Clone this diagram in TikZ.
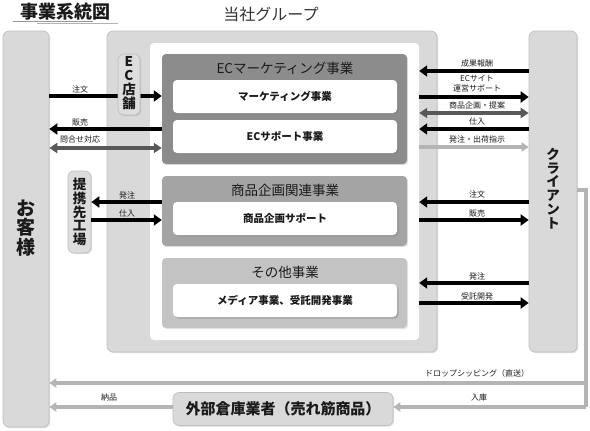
\documentclass[tikz,border=0pt]{standalone}
\usepackage{fontspec}
\setmainfont{Noto Sans CJK JP}
\usetikzlibrary{arrows.meta,shadows}
\definecolor{boxgray}{HTML}{D9D9D9}
\definecolor{boxedge}{HTML}{BDBDBD}
\definecolor{cGa}{HTML}{8C8C8C}
\definecolor{cGb}{HTML}{A4A4A4}
\definecolor{cGc}{HTML}{C3C3C3}
\definecolor{darkarr}{HTML}{595959}
\definecolor{lightarr}{HTML}{B4B4B4}
\definecolor{txt}{HTML}{1A1A1A}
\newcommand{\vfont}[2]{\bfseries\fontsize{#1}{#2}\selectfont\lineskiplimit=-30pt}
\tikzset{
  outerbox/.style={rectangle, rounded corners=6pt, fill=boxgray, draw=boxedge, line width=0.6pt, inner sep=0pt,
    drop shadow={shadow xshift=1.2pt, shadow yshift=-1.2pt, opacity=0.25}},
  groupbox/.style={rectangle, rounded corners=4pt, draw=none, inner sep=0pt,
    drop shadow={shadow xshift=1.2pt, shadow yshift=-1.2pt, opacity=0.2}},
  subbox/.style={rectangle, rounded corners=4pt, fill=white, draw=none, inner sep=0pt,
    minimum width=224pt, minimum height=33pt,
    font=\bfseries\fontsize{10.5}{12}\selectfont, text=txt,
    drop shadow={shadow xshift=1.5pt, shadow yshift=-1.5pt, opacity=0.45}},
  gtitle/.style={font=\fontsize{13.5}{15}\selectfont, text=txt, inner sep=0pt},
  lbl/.style={font=\fontsize{8}{9.5}\selectfont, text=txt, inner sep=0pt, align=center},
  blkarr/.style={line width=4.5pt, draw=black, -{Triangle[length=8pt,width=11pt]}},
  dblarr/.style={line width=4pt, draw=darkarr, {Triangle[length=8pt,width=10pt]}-{Triangle[length=8pt,width=10pt]}},
  ltarr/.style={line width=3.5pt, draw=lightarr, -{Triangle[length=7pt,width=9pt]}},
  ltline/.style={line width=3.5pt, draw=lightarr},
}
\begin{document}
\begin{tikzpicture}[x=1pt,y=-1pt]
\useasboundingbox (0,0) rectangle (590,431);
% title
\node[font=\bfseries\fontsize{18}{20}\selectfont, text=txt, inner sep=0pt] (title) at (65,12) {事業系統図};
\draw[draw=gray!80, line width=0.8pt] (13,21) -- (93,21);
\draw[draw=gray!60, line width=0.8pt] (37,23.5) -- (118,23.5);
\node[font=\fontsize{16}{18}\selectfont, text=black!80, inner sep=0pt] (grptitle) at (271,14) {当社グループ};
% outer boxes
\node[outerbox, minimum width=46pt, minimum height=396pt] (cust) at (26,229) {};
\node[font=\vfont{19}{19.5}, align=center, text=txt, inner sep=0pt] (custtxt) at (26,228) {お\\客\\様};
\node[outerbox, minimum width=330pt, minimum height=321pt] (grp) at (272,191.5) {};
\node[rectangle, rounded corners=4pt, fill=white, draw=none, inner sep=0pt, minimum width=269pt, minimum height=297pt] (inner) at (284.5,191.5) {};
\node[outerbox, minimum width=48pt, minimum height=321pt] (client) at (553,191.5) {};
\node[font=\vfont{13.5}{13.8}, align=center, text=txt, inner sep=0pt] (clienttxt) at (553,188.5) {ク\\ラ\\イ\\ア\\ン\\ト};
\node[outerbox, minimum width=220pt, minimum height=33pt, font=\bfseries\fontsize{15}{17}\selectfont, text=txt] (wh) at (283,409) {外部倉庫業者（売れ筋商品）};
% groups
\node[groupbox, fill=cGa, minimum width=245pt, minimum height=110pt] (ga) at (284.5,109) {};
\node[gtitle] (gatitle) at (285,68) {ECマーケティング事業};
\node[subbox] (sa1) at (285,96.5) {マーケティング事業};
\node[subbox] (sa2) at (285,136.5) {ECサポート事業};
\node[groupbox, fill=cGb, minimum width=245pt, minimum height=70pt] (gb) at (284.5,211) {};
\node[gtitle] (gbtitle) at (285,190) {商品企画関連事業};
\node[subbox] (sb1) at (285,218.5) {商品企画サポート};
\node[groupbox, fill=cGc, minimum width=245pt, minimum height=70pt] (gc) at (284.5,293) {};
\node[gtitle] (gctitle) at (285,272) {その他事業};
\node[subbox] (sc1) at (285,300.5) {メディア事業、受託開発事業};
% left arrows
\draw[blkarr] (cust.east |- 0,96) -- (ga.west |- 0,96);
\node[lbl] (l1) at (80,89) {注文};
\draw[blkarr] (ga.west |- 0,129) -- (cust.east |- 0,129);
\node[lbl] (l2) at (80,122) {販売};
\draw[dblarr] (cust.east |- 0,148) -- (ga.west |- 0,148);
\node[lbl] (l3) at (80,139) {問合せ対応};
% EC store and partner boxes
\node[outerbox, fill=boxgray!90!white, minimum width=22pt, minimum height=61pt] (ecs) at (129,84.5) {};
\node[font=\vfont{13.5}{13.8}, align=center, text=txt, inner sep=0pt] (ecstxt) at (129,83) {E\\C\\店\\舗};
\node[outerbox, fill=boxgray!90!white, minimum width=23pt, minimum height=82pt] (partner) at (79.5,212) {};
\node[font=\vfont{13.5}{13.8}, align=center, text=txt, inner sep=0pt] (partnertxt) at (79.5,212) {提\\携\\先\\工\\場};
\draw[blkarr] (gb.west |- 0,202) -- (partner.east |- 0,202);
\node[lbl] (l4) at (127,195) {発注};
\draw[blkarr] (partner.east |- 0,220) -- (gb.west |- 0,220);
\node[lbl] (l5) at (127,213) {仕入};
% right arrows
\draw[blkarr] (client.west |- 0,71) -- (inner.east |- 0,71);
\node[lbl] (r1) at (477,63) {成果報酬};
\draw[blkarr] (inner.east |- 0,97) -- (client.west |- 0,97);
\node[lbl] (r2) at (477,83.5) {ECサイト\\運営サポート};
\draw[dblarr] (inner.east |- 0,113) -- (client.west |- 0,113);
\node[lbl] (r3) at (477,105) {商品企画・提案};
\draw[blkarr] (client.west |- 0,129) -- (inner.east |- 0,129);
\node[lbl] (r4) at (477,121) {仕入};
\draw[ltarr] (inner.east |- 0,147) -- (client.west |- 0,147);
\node[lbl] (r5) at (477,139) {発注・出荷指示};
\draw[blkarr] (client.west |- 0,202) -- (inner.east |- 0,202);
\node[lbl] (r6) at (477,194) {注文};
\draw[blkarr] (inner.east |- 0,220) -- (client.west |- 0,220);
\node[lbl] (r7) at (477,213) {販売};
\draw[blkarr] (client.west |- 0,283) -- (inner.east |- 0,283);
\node[lbl] (r8) at (477,276) {発注};
\draw[blkarr] (inner.east |- 0,303) -- (client.west |- 0,303);
\node[lbl] (r9) at (477,296) {受託開発};
% bottom connectors
\coordinate (ca) at (586,190);
\coordinate (cb) at (586,383);
\coordinate (cc) at (586,407);
\draw[ltline] (client.east |- ca) -- (ca) -- (cc);
\draw[ltarr] (cc) -- (wh.east |- cc);
\draw[ltarr] (cb) -- (cust.east |- cb);
\draw[ltarr] (wh.west |- cc) -- (cust.east |- cc);
\node[lbl] (b1) at (477,373) {ドロップシッピング（直送）};
\node[lbl] (b2) at (479,397) {入庫};
\node[lbl] (b3) at (109,397) {納品};
\end{tikzpicture}
\end{document}
